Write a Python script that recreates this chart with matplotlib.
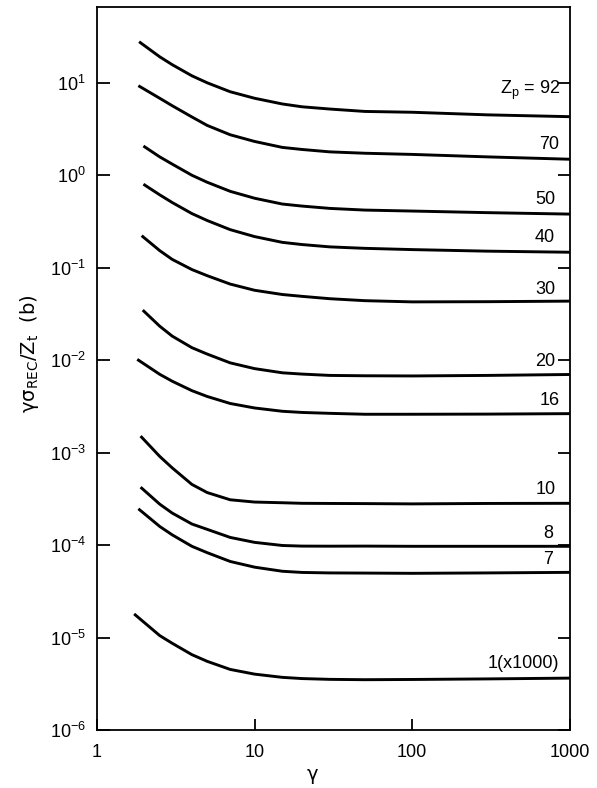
import matplotlib
matplotlib.use('Agg')
import matplotlib.pyplot as plt

plt.rcParams['font.family'] = ['Liberation Sans', 'DejaVu Sans']
plt.rcParams['mathtext.fontset'] = 'custom'
plt.rcParams['mathtext.rm'] = 'Liberation Sans'
plt.rcParams['mathtext.it'] = 'Liberation Sans:italic'
plt.rcParams['mathtext.default'] = 'regular'

# gamma grid shared by all curves (each curve has its own first point)
gamma_grid = [2.5, 3, 4, 5, 7, 10, 15, 20, 30, 50, 100, 300, 1000]

# projectile charge -> starting gamma
zp_names = ['92', '70', '50', '40', '30', '20', '16', '10', '8', '7', '1']
gamma_start = [1.85, 1.83, 1.97, 1.97, 1.92, 1.95, 1.80, 1.89, 1.89, 1.83, 1.72]

# gamma*sigma_REC/Z_t (barn), first value belongs to gamma_start
sig_92 = [27.8, 19.1, 15.7, 11.9, 10.0, 8.0, 6.8, 5.9, 5.5, 5.2, 4.9, 4.8, 4.5, 4.3]
sig_70 = [9.3, 6.8, 5.65, 4.27, 3.46, 2.74, 2.32, 2.0, 1.90, 1.79, 1.73, 1.68, 1.58, 1.49]
sig_50 = [2.07, 1.58, 1.32, 1.0, 0.84, 0.67, 0.564, 0.488, 0.464, 0.438, 0.42, 0.41, 0.394, 0.38]
sig_40 = [0.80, 0.614, 0.507, 0.385, 0.324, 0.258, 0.217, 0.188, 0.178, 0.168, 0.162, 0.157, 0.151, 0.147]
sig_30 = [0.222, 0.153, 0.123, 0.0955, 0.082, 0.0665, 0.057, 0.0513, 0.049, 0.0462, 0.044, 0.0427, 0.0429, 0.0435]
sig_20 = [0.0348, 0.0233, 0.0182, 0.01365, 0.01164, 0.00935, 0.0081, 0.0073, 0.00707, 0.00684, 0.00678, 0.00675, 0.00684, 0.0070]
sig_16 = [0.0102, 0.00703, 0.00592, 0.00468, 0.00405, 0.0034, 0.00304, 0.0028, 0.00272, 0.00266, 0.0026, 0.0026, 0.00261, 0.00264]
sig_10 = [1.51e-3, 9.1e-4, 6.84e-4, 4.53e-4, 3.70e-4, 3.09e-4, 2.92e-4, 2.87e-4, 2.83e-4, 2.82e-4, 2.81e-4, 2.79e-4, 2.82e-4, 2.83e-4]
sig_8 = [4.23e-4, 2.77e-4, 2.22e-4, 1.69e-4, 1.48e-4, 1.21e-4, 1.07e-4, 9.9e-5, 9.75e-5, 9.73e-5, 9.75e-5, 9.7e-5, 9.7e-5, 9.7e-5]
sig_7 = [2.47e-4, 1.59e-4, 1.29e-4, 9.7e-5, 8.28e-5, 6.65e-5, 5.77e-5, 5.21e-5, 5.06e-5, 5.0e-5, 4.98e-5, 4.95e-5, 5.0e-5, 5.07e-5]
sig_1 = [1.8e-5, 1.05e-5, 8.67e-6, 6.53e-6, 5.53e-6, 4.52e-6, 4.02e-6, 3.71e-6, 3.6e-6, 3.53e-6, 3.5e-6, 3.52e-6, 3.57e-6, 3.64e-6]
curves = [sig_92, sig_70, sig_50, sig_40, sig_30, sig_20, sig_16, sig_10, sig_8, sig_7, sig_1]

# curve labels: text, right-edge gamma, height
label_text = ['Z$_{p}$ = 92', '70', '50', '40', '30', '20', '16', '10', '8', '7', '1(x1000)']
label_x = [871, 850, 809, 800, 809, 809, 858, 809, 782, 782, 858]
label_y = [8.3, 2.14, 0.546, 0.211, 0.0582, 0.00973, 0.00368, 3.99e-4, 1.35e-4, 7.03e-5, 5.3e-6]

fig = plt.figure(figsize=(5.97, 7.88), dpi=100)
ax = fig.add_axes([0.1625, 0.0736, 0.792, 0.9175])

for g0, s in zip(gamma_start, curves):
    ax.plot([g0] + gamma_grid, s, color='black', lw=2.1, solid_capstyle='butt')

for t, lx, ly in zip(label_text, label_x, label_y):
    ax.text(lx, ly, t, ha='right', va='center', fontsize=13)

ax.set_xscale('log')
ax.set_yscale('log')
ax.set_xlim(1, 1000)
ax.set_ylim(1e-6, 66)

ax.set_xticks([1, 10, 100, 1000])
ax.set_xticklabels(['1', '10', '100', '1000'])
yt = [1e-6, 1e-5, 1e-4, 1e-3, 1e-2, 1e-1, 1, 10]
ax.set_yticks(yt)
ax.set_yticklabels([r'$10^{%d}$' % e for e in range(-6, 2)])
ax.minorticks_off()

ax.tick_params(axis='both', which='major', direction='in', labelsize=13, width=1.3)
ax.tick_params(axis='y', length=9, pad=8, right=True)
ax.tick_params(axis='x', length=8, pad=10, top=False)
for sp in ax.spines.values():
    sp.set_linewidth(1.3)

# greek letters from DejaVu, the Liberation gamma looks like a v
ax.set_xlabel('γ', fontsize=14, x=(313 - 97) / 473, labelpad=3,
              family=['DejaVu Sans'])
ax.set_ylabel('γσ$_{REC}$/Z$_{t}$  (b)', fontsize=14, y=0.52, labelpad=6,
              family=['DejaVu Sans'])

fig.savefig('out.png', dpi=100)
